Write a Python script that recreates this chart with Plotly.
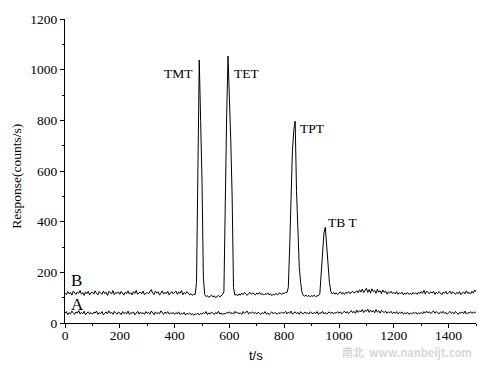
import plotly.graph_objects as go

# time axis (s), 5-s sampling
t = [i * 5 for i in range(301)]

# trace B (sample with peaks), counts/s
trace_b = [
    118,112,124,115,121,110,126,119,113,122,117,128,114,120,109,123,116,125,111,119,
    122,114,127,117,111,124,118,113,126,116,121,109,125,119,115,128,112,120,117,123,
    113,125,118,110,122,116,127,114,120,111,124,117,129,113,119,122,115,126,112,118,
    121,115,124,132,117,112,126,119,123,110,118,127,114,121,116,125,111,120,124,115,
    119,126,113,122,117,128,112,120,115,124,118,111,116,109,114,112,160,560,1038,800,
    560,180,112,104,108,101,106,110,103,107,100,105,109,103,108,112,125,560,820,1054,
    900,720,500,140,110,113,107,115,110,118,112,120,114,109,117,121,113,119,115,111,
    118,114,121,112,117,110,116,113,119,111,115,108,114,110,117,112,115,119,113,118,
    116,121,120,140,300,520,680,760,797,520,330,220,160,120,108,106,110,104,109,103,
    108,105,110,104,107,108,115,190,290,355,378,290,220,160,125,115,121,114,119,112,
    118,123,115,120,113,121,117,124,116,119,125,118,122,127,119,131,122,134,120,128,
    137,121,132,118,135,124,129,117,133,122,127,116,130,121,126,114,123,118,125,116,
    121,115,124,113,119,116,122,111,118,114,120,113,117,112,121,115,119,113,122,116,
    124,117,129,114,126,120,116,123,118,125,113,121,116,124,119,112,122,117,125,114,
    120,126,115,123,118,113,121,116,124,112,119,122,115,127,117,121,114,125,118,130,
    122,
]

# trace A (blank), counts/s
trace_a = [
    38,45,33,41,36,47,40,34,44,39,49,35,42,37,46,33,40,44,36,41,
    35,43,39,47,34,41,37,45,32,40,44,36,48,38,42,34,46,39,35,43,
    40,33,45,37,42,36,47,34,41,38,44,32,39,46,35,43,37,41,34,45,
    38,42,35,47,40,33,44,37,41,36,48,39,34,43,38,45,35,40,37,42,
    34,41,36,44,33,39,35,42,31,38,35,40,33,37,30,36,34,39,32,38,
    35,41,37,45,33,40,36,43,38,34,42,37,46,35,40,33,38,36,42,39,
    44,37,41,35,46,39,43,36,40,34,45,38,42,47,36,41,39,44,37,42,
    36,43,38,34,41,37,45,35,40,33,39,44,36,42,38,35,41,37,43,39,
    40,46,36,43,38,47,35,41,44,37,42,34,45,39,36,43,38,41,35,44,
    39,36,43,37,45,34,41,38,46,36,42,35,40,44,37,43,36,41,39,45,
    38,44,36,42,47,39,45,37,43,49,40,46,38,51,42,48,44,53,41,50,
    46,55,42,51,44,49,40,53,43,48,39,50,45,41,47,38,44,40,46,37,
    43,38,45,36,41,39,44,35,40,37,42,34,39,36,41,38,43,35,40,37,
    42,36,45,39,47,40,44,37,43,48,38,45,41,36,44,39,46,37,42,35,
    41,46,38,43,36,45,40,34,42,38,44,37,47,35,41,39,45,38,43,40,
    44,
]

# peak labels
peak_names = ["TMT", "TET", "TPT", "TB T"]
peak_label_x = [474, 609, 851, 952]
peak_label_y = [983, 983, 766, 397]
peak_anchor = ["right", "left", "left", "left"]

trace_names = ["B", "A"]
trace_label_x = [15, 14]
trace_label_y = [168, 72]

serif = "Liberation Serif, Times New Roman, serif"

fig = go.Figure()
fig.add_trace(go.Scatter(x=t, y=trace_b, mode="lines",
                         line=dict(color="black", width=1), showlegend=False))
fig.add_trace(go.Scatter(x=t, y=trace_a, mode="lines",
                         line=dict(color="black", width=1), showlegend=False))

for name, x, y, anc in zip(peak_names, peak_label_x, peak_label_y, peak_anchor):
    fig.add_annotation(x=x, y=y, text=name, showarrow=False, xanchor=anc,
                       yanchor="middle", font=dict(family=serif, size=13.5, color="black"))

for name, x, y in zip(trace_names, trace_label_x, trace_label_y):
    fig.add_annotation(x=x, y=y, text=name, showarrow=False, xanchor="left",
                       yanchor="middle", font=dict(family=serif, size=17, color="black"))

# axis titles
fig.add_annotation(xref="paper", yref="paper", x=-0.1176, y=0.483,
                   text="Response(counts/s)", textangle=-90, showarrow=False,
                   xanchor="center", yanchor="middle",
                   font=dict(family=serif, size=13.5, color="black"))
fig.add_annotation(xref="paper", yref="paper", x=0.4655, y=-0.106,
                   text="t/s", showarrow=False, xanchor="center", yanchor="middle",
                   font=dict(family="Liberation Sans, Arial, sans-serif", size=13, color="black"))

# watermark
fig.add_annotation(xref="paper", yref="paper", x=0.995, y=-0.094,
                   text="<b>南北  www.nanbeijt.com</b>", showarrow=False,
                   xanchor="right", yanchor="middle",
                   font=dict(family="Noto Sans CJK SC, sans-serif", size=11,
                             color="rgba(205,205,205,0.8)"))

fig.update_xaxes(range=[0, 1500], tickmode="linear", tick0=0, dtick=200,
                 showline=True, linecolor="black", linewidth=1,
                 ticks="outside", ticklen=4, tickcolor="black",
                 ticklabelstandoff=-4,
                 minor=dict(dtick=100, ticks="outside", ticklen=2, tickcolor="black"),
                 showgrid=False, zeroline=False,
                 tickfont=dict(family=serif, size=13.5, color="black"))
fig.update_yaxes(range=[0, 1200], tickmode="linear", tick0=0, dtick=200,
                 showline=True, linecolor="black", linewidth=1,
                 ticks="outside", ticklen=4, tickcolor="black",
                 minor=dict(dtick=100, ticks="outside", ticklen=2, tickcolor="black"),
                 showgrid=False, zeroline=False,
                 tickfont=dict(family=serif, size=13.5, color="black"))

fig.update_layout(width=488, height=369, margin=dict(l=65, r=12, t=17, b=46),
                  plot_bgcolor="white", paper_bgcolor="white")

fig.write_html("out.html", config={"displayModeBar": False},
               post_script="document.body.style.margin='0';document.body.style.overflow='hidden';")
